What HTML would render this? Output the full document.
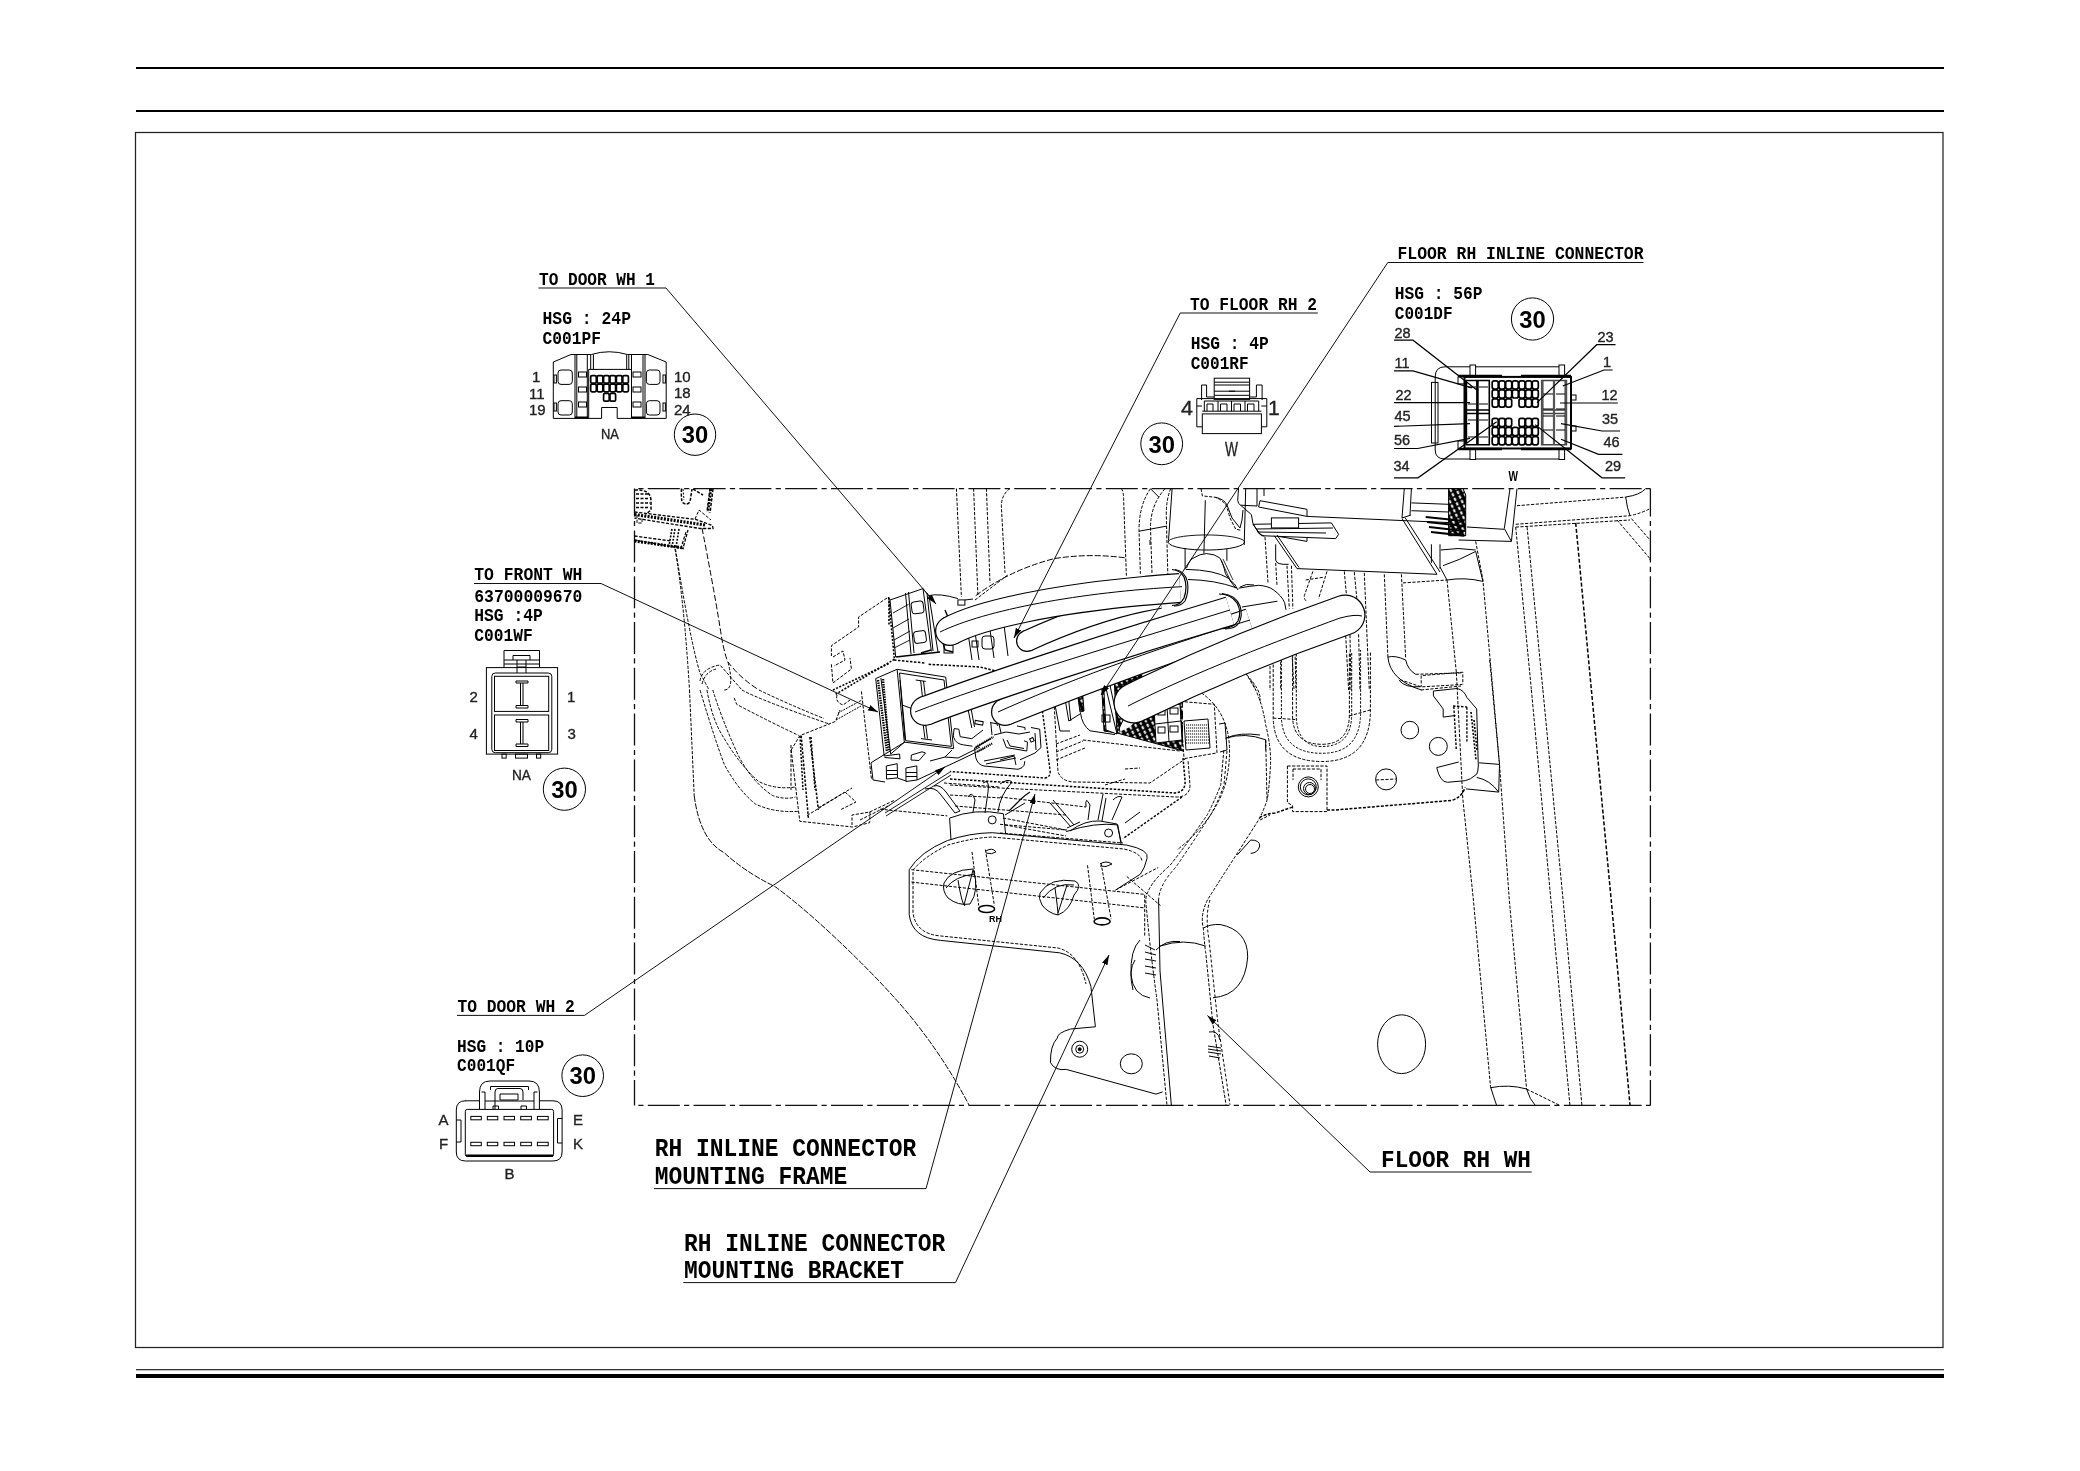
<!DOCTYPE html>
<html><head><meta charset="utf-8">
<style>
html,body{margin:0;padding:0;background:#fff;}
svg{display:block;will-change:transform;}
.b{font-family:"Liberation Sans",sans-serif;font-weight:bold;fill:#000;white-space:pre;}
.r{font-family:"Liberation Sans",sans-serif;fill:#222;stroke:#222;stroke-width:0.35;white-space:pre;}
.m{font-family:"Liberation Mono",monospace;font-weight:bold;fill:#000;white-space:pre;}
.mb{font-family:"Liberation Mono",monospace;font-weight:bold;fill:#000;white-space:pre;}
.ln{fill:none;stroke:#000;stroke-width:1.2;}
.th{fill:none;stroke:#000;stroke-width:1;}
.ds{fill:none;stroke:#000;stroke-width:1;stroke-dasharray:3.2 1.5;}
</style></head><body>
<svg width="2080" height="1471" viewBox="0 0 2080 1471">
<!-- page frame -->
<rect x="136" y="67" width="1808" height="2" fill="#000"/>
<rect x="136" y="110" width="1808" height="2" fill="#000"/>
<rect x="135.5" y="132.5" width="1807.5" height="1215" fill="none" stroke="#222" stroke-width="1.25"/>
<rect x="136" y="1369" width="1808" height="1.3" fill="#333"/>
<rect x="136" y="1374" width="1808" height="4" fill="#000"/>
<!-- dash-dot box -->
<g fill="none" stroke="#111" stroke-width="1.3" stroke-dasharray="32 4.3 5.2 4.3">
<path d="M634.5,488.6 H1650.4" stroke-dashoffset="32.5"/>
<path d="M634.5,1105.4 H1650.4" stroke-dashoffset="32.5"/>
<path d="M634.5,488.6 V1105.4" stroke-dashoffset="4"/>
<path d="M1650.4,488.6 V1105.4" stroke-dashoffset="4"/>
</g>
<!-- ===== connector 24P ===== -->
<g class="th" stroke-width="1.3">
<path d="M553.3,418.4 V362 L571,354.5 H591.4 Q609,349 627.4,354.5 H647.8 L666.2,362 V418.4 H617.2 V407.5 H601.6 V418.4 Z"/>
<path d="M575,354.5 V418.4 M576.8,354.5 V418.4 M587.3,354.5 V418.4 M590.7,354.5 V369.4 M593.4,354.5 V369.4 M626.7,354.5 V369.4 M628.8,354.5 V369.4 M631.5,354.5 V418.4 M643,354.5 V418.4 M645,354.5 V418.4"/>
<path d="M588.7,418.4 V369.4 H631.5"/>
<rect x="558" y="370" width="14.3" height="14.4" rx="3"/>
<rect x="558" y="400.7" width="14.3" height="14.3" rx="3"/>
<rect x="646.4" y="370" width="13.6" height="14.4" rx="3"/>
<rect x="646.4" y="400.7" width="13.6" height="14.3" rx="3"/>
<rect x="554" y="375" width="2.4" height="8"/><rect x="554" y="403" width="2.4" height="8"/>
<rect x="663" y="375" width="2.4" height="8"/><rect x="663" y="403" width="2.4" height="8"/>
<rect x="578.5" y="372" width="8" height="5"/><rect x="578.5" y="387" width="8" height="5"/><rect x="578.5" y="402" width="8" height="5"/>
<rect x="633" y="372" width="8" height="5"/><rect x="633" y="387" width="8" height="5"/><rect x="633" y="402" width="8" height="5"/>
<path d="M575,417.5 H588 M631.5,417.5 H645" stroke-width="2"/>
</g>
<g fill="#fff" stroke="#000" stroke-width="1.7">
<rect x="590.7" y="375.6" width="5.6" height="7.6" rx="1.3"/><rect x="597.2" y="375.6" width="5.6" height="7.6" rx="1.3"/><rect x="603.6" y="375.6" width="5.6" height="7.6" rx="1.3"/><rect x="610.0" y="375.6" width="5.6" height="7.6" rx="1.3"/><rect x="616.4" y="375.6" width="5.6" height="7.6" rx="1.3"/><rect x="622.8" y="375.6" width="5.6" height="7.6" rx="1.3"/>
<rect x="590.7" y="384.2" width="5.6" height="7.6" rx="1.3"/><rect x="597.2" y="384.2" width="5.6" height="7.6" rx="1.3"/><rect x="603.6" y="384.2" width="5.6" height="7.6" rx="1.3"/><rect x="610.0" y="384.2" width="5.6" height="7.6" rx="1.3"/><rect x="616.4" y="384.2" width="5.6" height="7.6" rx="1.3"/><rect x="622.8" y="384.2" width="5.6" height="7.6" rx="1.3"/>
<rect x="603.6" y="393.4" width="5.6" height="7.8" rx="1.3"/><rect x="610.0" y="393.4" width="5.6" height="7.8" rx="1.3"/>
</g>
<g class="r" font-size="15">
<text x="532" y="382">1</text><text x="529" y="398.5">11</text><text x="529" y="415">19</text>
<text x="674" y="381.5">10</text><text x="674" y="398">18</text><text x="674" y="414.5">24</text>
<text x="601" y="438.5" textLength="18" lengthAdjust="spacingAndGlyphs">NA</text>
</g>

<!-- ===== connector 4P RF ===== -->
<g class="th" stroke-width="1.2">
<rect x="1214.2" y="378.2" width="35.4" height="21.2"/>
<path d="M1214.2,382.2 H1249.6 M1214.2,385 H1249.6 M1214.2,391.2 H1249.6 M1214.2,395.3 H1249.6 M1229,391.2 H1235" />
<path d="M1201.6,400 V385 H1206.6 V397 H1214.2 M1249.6,397 H1256.4 V385 H1262.1 V400"/>
<path d="M1196.8,426.8 V398.6 H1262 V398.6 M1266.8,398.6 V426.8 H1261.4 M1196.8,426.8 H1202.3"/>
<path d="M1262,398.6 H1266.8"/>
<rect x="1202.3" y="413.9" width="59.1" height="19.7"/>
<path d="M1202.3,411.2 H1261.4"/>
<path d="M1204.3,411.2 V401 H1258.7 V411.2 M1218,401 V411.2 M1231.5,401 V411.2 M1245,401 V411.2"/>
<path d="M1207,411 V404 H1213 V411 M1220.5,411 V404 H1227 V411 M1234,411 V404 H1240.5 V411 M1247.5,411 V404 H1254 V411"/>
<path d="M1196.8,406 H1202 M1261.4,406 H1266.8"/>
</g>
<g class="r" font-size="21">
<text x="1181" y="414.7" textLength="12" lengthAdjust="spacingAndGlyphs">4</text><text x="1268" y="414.7">1</text>
<text x="1225" y="456.2" textLength="13" lengthAdjust="spacingAndGlyphs">W</text>
</g>

<!-- ===== connector 56P ===== -->
<g class="th" stroke-width="1.1">
<path d="M1470,366.8 H1445 Q1435.2,366.8 1435.2,377 V450 Q1435.2,459 1445,459 H1470"/>
<path d="M1475.6,366.8 H1559 M1475.6,459 H1559"/>
<rect x="1470" y="365" width="5.6" height="12"/><rect x="1470" y="448.5" width="5.6" height="11"/>
<rect x="1559" y="365" width="5.6" height="12"/><rect x="1559" y="448.5" width="5.6" height="11"/>
<rect x="1431.5" y="382.4" width="6.5" height="60.6"/>
<rect x="1458" y="376.9" width="6.5" height="7"/><rect x="1458" y="441" width="6.5" height="7.5"/>
<rect x="1571" y="395" width="5" height="5"/><rect x="1571" y="426" width="5" height="5"/>
</g>
<rect x="1464.5" y="376.9" width="106.5" height="71.6" fill="none" stroke="#000" stroke-width="2"/>
<g class="th" stroke-width="1.5">
<path d="M1466.4,380.5 H1489.3 V444.8 H1466.4 Z M1466.4,410 H1489.3 M1466.4,413.5 H1489.3" stroke-width="1.6"/><path d="M1477.4,380.5 V444.8 M1465.5,380 V445" stroke-width="2.6"/>
<path d="M1541.7,380.5 H1566.4 V444.8 H1541.7 Z M1541.7,410 H1566.4 M1541.7,413.5 H1566.4" stroke-width="1.6" stroke="#444"/><path d="M1554,380.5 V444.8 M1542.5,381 V444 M1565.5,381 V444" stroke-width="2.2" stroke="#555"/>
<path d="M1458,376 H1502 M1521,376 H1571 M1458,449 H1502 M1521,449 H1571" stroke-width="2.4"/>
</g>
<g fill="#fff" stroke="#000" stroke-width="1.7">
<rect x="1492.2" y="380.8" width="6.0" height="8.2" rx="2"/><rect x="1499.0" y="380.8" width="6.0" height="8.2" rx="2"/><rect x="1505.7" y="380.8" width="6.0" height="8.2" rx="2"/><rect x="1512.3" y="380.8" width="6.0" height="8.2" rx="2"/><rect x="1519.0" y="380.8" width="6.0" height="8.2" rx="2"/><rect x="1525.6" y="380.8" width="6.0" height="8.2" rx="2"/><rect x="1532.3" y="380.8" width="6.0" height="8.2" rx="2"/>
<rect x="1492.2" y="389.8" width="6.0" height="8.2" rx="2"/><rect x="1499.0" y="389.8" width="6.0" height="8.2" rx="2"/><rect x="1505.7" y="389.8" width="6.0" height="8.2" rx="2"/><rect x="1512.3" y="389.8" width="6.0" height="8.2" rx="2"/><rect x="1519.0" y="389.8" width="6.0" height="8.2" rx="2"/><rect x="1525.6" y="389.8" width="6.0" height="8.2" rx="2"/><rect x="1532.3" y="389.8" width="6.0" height="8.2" rx="2"/>
<rect x="1492.2" y="398.9" width="6.0" height="8.2" rx="2"/><rect x="1499.0" y="398.9" width="6.0" height="8.2" rx="2"/><rect x="1505.7" y="398.9" width="6.0" height="8.2" rx="2"/><rect x="1519.0" y="398.9" width="6.0" height="8.2" rx="2"/><rect x="1525.6" y="398.9" width="6.0" height="8.2" rx="2"/><rect x="1532.3" y="398.9" width="6.0" height="8.2" rx="2"/>
<rect x="1492.2" y="418.3" width="6.0" height="8.2" rx="2"/><rect x="1499.0" y="418.3" width="6.0" height="8.2" rx="2"/><rect x="1505.7" y="418.3" width="6.0" height="8.2" rx="2"/><rect x="1519.0" y="418.3" width="6.0" height="8.2" rx="2"/><rect x="1525.6" y="418.3" width="6.0" height="8.2" rx="2"/><rect x="1532.3" y="418.3" width="6.0" height="8.2" rx="2"/>
<rect x="1492.2" y="427.3" width="6.0" height="8.2" rx="2"/><rect x="1499.0" y="427.3" width="6.0" height="8.2" rx="2"/><rect x="1505.7" y="427.3" width="6.0" height="8.2" rx="2"/><rect x="1512.3" y="427.3" width="6.0" height="8.2" rx="2"/><rect x="1519.0" y="427.3" width="6.0" height="8.2" rx="2"/><rect x="1525.6" y="427.3" width="6.0" height="8.2" rx="2"/><rect x="1532.3" y="427.3" width="6.0" height="8.2" rx="2"/>
<rect x="1492.2" y="436.6" width="6.0" height="8.2" rx="2"/><rect x="1499.0" y="436.6" width="6.0" height="8.2" rx="2"/><rect x="1505.7" y="436.6" width="6.0" height="8.2" rx="2"/><rect x="1512.3" y="436.6" width="6.0" height="8.2" rx="2"/><rect x="1519.0" y="436.6" width="6.0" height="8.2" rx="2"/><rect x="1525.6" y="436.6" width="6.0" height="8.2" rx="2"/><rect x="1532.3" y="436.6" width="6.0" height="8.2" rx="2"/>
</g>
<g class="th" stroke-width="1.3">
<path d="M1468,387 H1476 M1479,387 H1488 M1468,404 H1476 M1479,404 H1488 M1468,420 H1476 M1479,420 H1488 M1468,437 H1476 M1479,437 H1488"/>
<path d="M1543,394 H1553 M1556,394 H1565 M1543,409 H1553 M1556,409 H1565 M1543,416 H1553 M1556,416 H1565 M1543,430 H1553 M1556,430 H1565"/>
</g>
<g class="ln" stroke-width="1">
<polyline points="1394,340.2 1413,340.2 1476.5,389.7"/>
<polyline points="1394,370.8 1413,370.8 1471.9,387.9"/>
<polyline points="1394,402.6 1470,402.6"/>
<polyline points="1394,426.4 1470,423.7"/>
<polyline points="1394,448.5 1417.7,448.5 1470,438.4"/>
<polyline points="1394,477.8 1418,477.8 1496.7,421.8"/>
<polyline points="1615.5,344.7 1596.7,344.7 1537,402.6"/>
<polyline points="1612.7,370 1604,370 1562.8,386"/>
<polyline points="1617.8,403 1560,403"/>
<polyline points="1620,431 1602,431 1561,423.7"/>
<polyline points="1622.4,454.3 1598.6,454.3 1561,439.3"/>
<polyline points="1625.2,477.8 1602,477.8 1535.2,424.6"/>
</g>
<g class="r" font-size="14.5">
<text x="1394.5" y="337.5">28</text><text x="1394.5" y="368">11</text><text x="1395.5" y="399.5">22</text>
<text x="1394.5" y="421.2">45</text><text x="1394" y="445">56</text><text x="1393.5" y="470.7">34</text>
<text x="1597.5" y="341.8">23</text><text x="1603" y="367">1</text><text x="1601.5" y="399.5">12</text>
<text x="1602" y="424.4">35</text><text x="1603.5" y="446.8">46</text><text x="1605" y="471">29</text>
</g>
<text class="b" x="1508.5" y="480.7" font-size="15" textLength="9.5" lengthAdjust="spacingAndGlyphs">W</text>

<!-- ===== connector 4P WF ===== -->
<g class="th" stroke-width="1.2">
<rect x="486.4" y="667.6" width="71.2" height="86.5"/>
<path d="M504,667.6 V650.5 H539.5 V667.6 M504,660 H539.5 M504,664 H539.5 M513,660 V655.5 H530 V660 M517,660 V673 M526,660 V673 M517,667 H526"/>
<rect x="491.8" y="673" width="60" height="79.7" rx="3.5"/>
<rect x="494.5" y="676.3" width="54.2" height="35.1"/>
<rect x="494.5" y="715" width="54.2" height="35.5"/>
<path d="M516,681 H528 M516,681 V683 H528 V681 M520.5,683 V705.5 M523,683 V705.5 M516,705.5 H528 V708 H516 Z"/>
<path d="M516,719.5 H528 V722 H516 Z M520.5,722 V744 M523,722 V744 M516,744 H528 V746.5 H516 Z"/>
<rect x="502" y="754.1" width="4.2" height="4"/><rect x="515.5" y="754.1" width="12" height="4"/><rect x="536.5" y="754.1" width="4.2" height="4"/>
</g>
<g class="r" font-size="15">
<text x="469.5" y="702">2</text><text x="567" y="702">1</text>
<text x="469.5" y="738.5">4</text><text x="567.5" y="738.5">3</text>
<text x="512" y="780" textLength="19" lengthAdjust="spacingAndGlyphs">NA</text>
</g>

<!-- ===== connector 10P QF ===== -->
<g class="th" stroke-width="1.2">
<path d="M465,1100.8 H479.5 M539.4,1100.8 H553 Q562.1,1100.8 562.1,1110 V1152 Q562.1,1161 553,1161 H465.5 Q456.3,1161 456.3,1152 V1110 Q456.3,1100.8 465.5,1100.8"/>
<path d="M479.5,1109 V1092 Q479.5,1081 490,1081 H529 Q539.4,1081 539.4,1092 V1109"/>
<path d="M490.5,1086.5 H528.5 V1090 M490.5,1086.5 V1090 M495,1109 V1092 Q495,1088.5 498,1088.5 H520 Q523,1088.5 523,1092 V1100 M500,1100 V1094 H518 V1100 M500,1100 H518"/>
<path d="M481.5,1092 H485 V1109 M537.5,1092 H534 V1109 M485,1101 H534 M493,1109 V1106 H498.5 V1109 M521,1109 V1106 H526.5 V1109"/>
<rect x="465.3" y="1109.4" width="88.3" height="47.1" rx="2"/>
<path d="M466,1155.5 H553" stroke-width="2"/>
<path d="M456.3,1120 H461 V1142 H456.3 M562.1,1118.5 H557.5 V1143 H562.1"/>
<rect x="470.8" y="1116.4" width="10.5" height="3.4"/><rect x="487.3" y="1116.4" width="10.5" height="3.4"/><rect x="504" y="1116.4" width="10.5" height="3.4"/><rect x="520.7" y="1116.4" width="10.7" height="3.4"/><rect x="537.4" y="1116.4" width="10.8" height="3.4"/>
<rect x="470.8" y="1142.3" width="10.5" height="3.4"/><rect x="487.3" y="1142.3" width="10.5" height="3.4"/><rect x="504" y="1142.3" width="10.5" height="3.4"/><rect x="520.7" y="1142.3" width="10.7" height="3.4"/><rect x="537.4" y="1142.3" width="10.8" height="3.4"/>
</g>
<g class="r" font-size="15">
<text x="438.5" y="1124.5">A</text><text x="439" y="1149">F</text>
<text x="573" y="1124.5">E</text><text x="573" y="1149">K</text>
<text x="504.5" y="1179">B</text>
</g>
<!-- ===== drawing tile 1 [630-890, 480-690] ===== -->
<g class="ds" stroke-width="1.1">
<path d="M634.5,490 Q651,489 651,501 V509 Q650,512 645,514" stroke-width="1.5"/>
<path d="M636,494 H648 M636,498.5 H649 M636,503 H650 M636,507.5 H649" stroke-width="1.6" stroke-dasharray="3 1.5"/>
<path d="M637,515 V523 H642 V515"/>
<path d="M634.5,512 L696,519.5 L712.5,525.5 L713,528.5 L700,528.5 L634.5,518" stroke-width="1.3"/>
<path d="M634.5,514.5 L705,525" stroke-dasharray="2 1.3" stroke-width="3.2"/>
<path d="M695,519 L699,510 L711,520"/>
<path d="M681.5,488.5 Q681,496 682,502 Q686,506 690,502 L692,489" stroke-width="1.5"/>
<path d="M683,489 L684,500" stroke-dasharray="2 1.5"/>
<path d="M693,489 L703,495 M710,488.5 L707,512 M713,489 L710,513" stroke-width="1.5"/>
<path d="M711,489 L708,512" stroke-dasharray="2 1.3" stroke-width="2.5"/>
<path d="M634.5,536 L671,541 M634.5,540 L683,548.5 L688,530" stroke-width="1.3"/>
<path d="M634.5,541 L684,548" stroke-dasharray="2 1.3" stroke-width="3"/>
<path d="M672,529 L669,546 M675,529 L672,547 M679,529 L676,547" stroke-dasharray="2 1.3" stroke-width="1.6"/>
<path d="M686,532 L681,548" stroke-width="1.2"/>
<path d="M675,549 Q684,600 689.5,690"/>
<path d="M675.5,549 Q690,640 700,673 Q706,684 709,690"/>
<path d="M702,528 Q716,600 721.5,637 Q725,656 728,662 Q740,678 759,690" stroke-dasharray="6 2.5"/>
<path d="M700,681 Q702,668 720,665 L742,690"/>
<path d="M702,684 Q705,672 716,669"/>
<path d="M887,598 L858.6,617 V627 L831.4,645.7 V656 M833,657 L843,651 L845,660 L834,666 M831.4,664.3 L832.9,683 L851.4,669 L850,658"/>
<path d="M833,690 L890,663" stroke-dasharray="2 1.5" stroke-width="1.6"/>
<path d="M889,598 L889,625" stroke-dasharray="2 1.5" stroke-width="1.6"/>
</g>
<!-- ===== tile 2 top verticals ===== -->
<g class="ds" stroke-width="1.05">
<path d="M956.4,488.5 L961.4,597 M973.6,488.5 L977.9,595.7 M986.4,488.5 L990,582.9"/>
<path d="M1010,488.5 Q1001,495 1001.4,507 L1005,572.9"/>
<path d="M1121.4,488.5 Q1123.6,492 1123.6,498.6 L1126.4,575.7"/>
<path d="M975.7,595.7 Q1010,570 1054.3,558.6 Q1090,553 1125.7,557.9 L1126,558" stroke-dasharray="6 2"/>
<path d="M975,600 L1008.6,574.3" />
</g>
<g class="th" stroke-width="1.1">
<path d="M1150,540 L1150,545"/>
</g>
<!-- ===== connectors in drawing (left cluster) ===== -->
<g class="th" stroke-width="1.2">
<!-- 24P housing -->
<path d="M890,600 L923,588.6 L931.4,651.4 M890,600 L895.7,657 M905.5,593 L911,654 M908.5,592 L914,653"/>
<path d="M893,613 L908.6,604.3 M893,628 L909,619 M894,640 L910,631 M894,648 L910,640" stroke-width="0.9"/>
<rect x="911.5" y="601.5" width="12" height="12" rx="3" transform="rotate(-8 917 607)"/>
<rect x="914" y="631" width="12" height="12" rx="3" transform="rotate(-8 920 637)"/>
<path d="M895.7,657 L940,652 M921,653 L931,650" stroke-width="1.4"/>
<path d="M923,588.6 L929,596 L938,652 M927,593 L933,651" />
<path d="M928.5,595.6 Q940,593 957.9,598.6" /><rect x="957.9" y="599.9" width="7" height="5.2"/><path d="M965,600 L973,599"/>
<path d="M945,610 L950,622 M940,632 L945,650 L953,652" stroke-width="1.4"/>
<rect x="944" y="645" width="9" height="8"/>
<path d="M968,633 L972,660 M975,632 L979,660 M990,630 L994,658 M1004,625 L1008,656" />
<rect x="972" y="641" width="6" height="6"/>
<rect x="982" y="636" width="12" height="13" rx="3"/>
<path d="M1004,624 L1022,618 L1026,622" />
</g>
<g class="ds" stroke-width="1.1">
<path d="M888.6,597 L894.3,658.6" stroke-dasharray="2 1.5" stroke-width="1.6"/>
<path d="M894.3,659.3 L835.7,694.3" stroke-dasharray="2 1.5" stroke-width="1.6"/>
<path d="M928.6,664.3 L980,667 L1000,672" stroke-dasharray="2.5 1.5" stroke-width="1.5"/>
<path d="M894,660 L925,663" stroke-dasharray="2.5 1.5" stroke-width="1.5"/>
<path d="M837,695 Q835,702 843,705 L850,700"/>
<path d="M838,713 L862,700 M836,720 L861,706" stroke-dasharray="2 1"/>
<path d="M734.2,697.9 L736.7,704.4 Q770,722 798.7,735.4"/>
<path d="M861.4,691.4 L871.4,778.6"/>
<path d="M800,736 L803,790 M811,737 L815,790" stroke-dasharray="2 1.5" stroke-width="1.5"/>
<path d="M791,745 L791,790"/>
</g>
<g class="th" stroke-width="1.2">
<!-- FRONT WH 4P housing -->
<path d="M897.1,669.3 L945.7,677.1 L953.6,748.6 L904.3,742.1 Z"/>
<path d="M899.5,673 L944,680 L951.4,746.4 L905.7,740.7 Z"/>
<path d="M902,705 L912,708.6 M905,740 L900,680"/>
<path d="M915.7,680 L925.7,681.4 M920.7,681 L923,702 M923.5,681 L926,702"/>
<path d="M922.9,722.9 L925,738.6 M925.5,722.9 L927.5,738.6 M921,738.6 L932,740"/>
<path d="M875.7,678.6 L897,669.3 M875.7,678.6 L884.2,756.1 M880.9,678 L890.7,754"/>
<path d="M878,680 L887,752 M883,679 L889,751" stroke-width="2.4" stroke-dasharray="1.5 1"/>
<path d="M890.7,754 L904.8,742 M871.1,762.7 L904.8,742 M871,763 L873,780 L885,782"/>
<path d="M884,756 L899.5,754 L900,758.8 L884.5,757.5"/>
<path d="M886.3,766 L897.2,763.7 L897.5,777.9 L886.5,779 Z M886.5,770.5 H897.3 M886.5,774.5 H897.4"/>
<path d="M905.9,768 L916.8,765.9 L917,780 L906,781.5 Z M906,772.5 H917 M906,776.5 H917"/>
<path d="M911.4,755 L922,751.8 L925.5,753 L919,760.5 L911,760 Z"/>
<path d="M917,780 L960,760 L985,748 M897.5,778 L906,781"/>
<path d="M930,761 L945,757 L952,750 M945,757 L958,758 L980,747"/>
<path d="M885,813 L950,772 M886,816 L951,775" stroke-width="0.9"/>
</g>
<!-- ===== middle cluster: 56P in drawing, frame ===== -->
<defs>
<pattern id="chk" width="5.5" height="5" patternUnits="userSpaceOnUse" patternTransform="rotate(-25)">
<rect width="5.5" height="5" fill="#000"/><rect x="1.2" y="0.8" width="2" height="3.4" rx="0.8" fill="#fff"/></pattern>
</defs>
<g class="th" stroke-width="1.2">
<path d="M1101,672 L1143,658 L1140,700 L1125,716 L1117,733 L1104,731 Z" fill="url(#chk)"/>
<path d="M1117,733 L1183,751 L1183,700 L1150,705 L1130,727 Z" fill="url(#chk)" stroke="none"/>
<path d="M1103,673 L1106,730 L1117,734 L1114,676 Z" fill="#fff"/>
<path d="M1117,733 L1183,751 M1103,676 L1117,734 M1108,676 L1120,732"/>
<rect x="1102" y="715" width="8" height="7"/>
<path d="M1154,708 L1180,704 L1182,740 L1156,743 Z" fill="#fff"/>
<path d="M1167,706 L1169,742 M1155,724 L1181,721"/>
<rect x="1158" y="709" width="7" height="6"/><rect x="1170" y="708" width="8" height="6"/>
<rect x="1158" y="727" width="7" height="6"/><rect x="1170" y="726" width="8" height="6"/>
<path d="M1076.5,686.5 L1080,712 L1084,711 L1082,685 Z" fill="url(#chk)"/>
<path d="M1064,693 L1068.8,721 M1067.9,692 L1070.8,721 M1055,705 L1060,731 L1070,731 M1068.8,721 L1080,714"/>
<path d="M1080.4,712.5 Q1082,725 1090,730.8 L1115,734.6" />
<path d="M1184,721 L1208,719 L1210,748 L1186,750 Z" fill="#fff"/>
<path d="M1186,725 H1209 M1186,728 H1209 M1186,731 H1209 M1186,734 H1209 M1186,737 H1209 M1186,740 H1209 M1186,743 H1209" stroke-width="1" stroke-dasharray="1.2 0.8"/>
<path d="M1219,724 L1225,723 L1227,750 L1220,752" />
<path d="M1226,738 Q1240,732 1260,735"/>
</g>
<g class="ds" stroke-width="1.1">
<path d="M1180,701.4 L1214.3,704.3 L1217,752.9 L1184.3,758.6 M1180,702 L1184,758"/>
<path d="M1041.4,703 L1050,770 Q1051,777 1045,778 L950,771.5" stroke-dasharray="2.5 1.5" stroke-width="1.4"/>
<path d="M1054,702 L1058,772 Q1062,782 1075,782 L1150,783 L1185.7,758.6"/>
<path d="M950,779 L1000,782 L1175,793 Q1186,792 1185,780 L1183,758" stroke-dasharray="2.5 1.5" stroke-width="1.5"/>
<path d="M950,785 L1000,788 L1176,797 Q1190,797 1190,785 L1188,760"/>
<path d="M1182,797 L1123,838.6" stroke-dasharray="2.5 1.5" stroke-width="1.4"/>
<path d="M1000,797 L1086,807 M1000,824.3 L1067,830 M1000,833 L1123,843"/>
<path d="M1056,744 L1080,735 M1056,752 L1083,741 M1056,760 L1085,748 M1083,740 L1180,751"/>
<path d="M1201.4,692.9 Q1240,720 1225.7,782.9 Q1215,820 1177,850"/>
<path d="M1243,671 Q1262,690 1260,701"/>
<path d="M1125,769 L1140,768 M1105,785 L1125,779"/>
</g>
<g class="th" stroke-width="1.1">
<path d="M1070,831 Q1085,820 1100,821 L1117,824 L1121.4,843" fill="none"/>
<circle cx="1108.6" cy="833" r="4"/>
<path d="M1050,803 L1071,827 M1053,800 L1074,825 M1067,828 L1080,822"/>
<path d="M1086,807 Q1085,795 1090,805 L1088,820 M1103,794 L1098,820 M1106,798 L1102,821 M1113,800 Q1118,795 1122,797 L1112,820"/>
<path d="M1005,815 L1025,803 M1125,823 L1140,812"/>
</g>
<!-- ===== top right [1240-1660, 480-690] ===== -->
<g class="th" stroke-width="1.2">
<path d="M1297,568.6 L1437,574.3 M1307,516.4 L1458.6,523 M1274.3,535.7 L1297,568.6 M1277,535 L1299,567.5"/>
<path d="M1260,500.7 L1307,509.3 L1307,516.4 M1258.6,507 L1307,516.4 M1260,500.7 L1258.6,507"/>
<path d="M1252.9,524.3 L1331.4,522.9 L1338.6,534.3 L1335.7,538.6 L1261.4,535.7 Z M1256,529 L1333,528 M1258,532 L1326,533"/>
<rect x="1271.4" y="517.9" width="27.2" height="10" fill="#fff"/>
<path d="M1278.6,536.4 L1307,541.4 L1307,538"/>

<path d="M1275.7,544.3 V560 Q1276,565 1288.6,564.3"/>
<path d="M1402,518.6 L1437,574.3 M1405,517.5 L1440,572" />
<path d="M1517,488.5 L1511.4,541.4 M1510,488.5 L1504.3,528.6 L1511.4,541.4 M1467,527 L1504,529.3 M1458.6,540 L1511.4,541.4"/>
<path d="M1404.3,488.5 L1402,518 M1411.4,488.5 L1410,515 M1411.4,502.9 L1448.6,504.3 M1411.4,510.7 L1448.6,512 M1402,518 L1411,515"/>
<path d="M1448.6,488.6 L1463,488.6 L1465.7,495 L1465.7,535.7 L1448.6,535.7 Z" fill="url(#chk)"/>
<path d="M1425.7,517 L1464.3,521 M1427,522 L1464.3,526 M1429,527 L1464.3,531 M1431,532 L1464.3,535.7" stroke-width="2.2"/>
<path d="M1440.7,550 Q1458,547 1475.7,550 M1442.9,565.7 Q1460,560 1475.7,551.4 L1482.9,581.4 M1447,580 Q1465,577 1482.9,581.4 M1440,567 L1447,580 M1431.4,544.3 V562.9 M1440,544.3 V568.6"/>
<path d="M1387.9,657.1 Q1395,655 1405.7,660 Q1408,670 1415.7,674.3 M1387.9,657.1 Q1390,680 1421.4,690"/>
<path d="M1625.7,497 Q1627,508 1630,515.7 M1625.7,497 Q1640,495 1645.7,488.6"/>
</g>
<g class="ds" stroke-width="1.05">
<path d="M1517,505.7 L1625.7,497.1 M1515.7,524.3 L1630,515.7 Q1642,513 1650,508.6 M1515.7,527.1 L1630,520"/>
<path d="M1617,520 L1650,558.6 M1631.4,518.6 L1650,540"/>
<path d="M1515.7,527.1 L1531.4,690 M1527.1,527.1 L1542.9,690 M1475.7,541.4 L1482.9,580 L1492.9,690 M1447,580 L1456.4,672.9 M1401.4,574.3 L1405.7,658.6 M1403,582.9 L1447,580 M1415.7,674.3 L1461.4,672.9 M1421,690 L1461,686"/>
<path d="M1575.7,522.9 L1591.4,690" stroke-dasharray="4 2" stroke-width="1.5"/>
<path d="M1265,537.1 L1268,582.9 M1275.7,562.9 L1277,585.7 M1287,565.7 L1289.3,608.6 M1291.4,565.7 L1292.9,608.6 M1344.3,571.4 L1346.4,594.3 M1354.3,572.1 L1357.1,601.4 M1358.6,634.3 L1360,690 M1364.3,572.9 L1369.3,690 M1384.3,574.3 L1387.9,657.1 M1345.7,635.7 L1348.6,690 M1350,635 L1351,690"/>
<path d="M1270,661.4 V690 M1280.7,657 V690 M1292,652.9 L1294,690 M1295,652 L1296,690"/>
<path d="M1312.9,571.4 L1304.3,595.7 Q1304,600 1307,601.4 M1327,571.4 L1318.6,598.6 M1305.7,580 L1324.3,577.1"/>
<path d="M1245.7,672.9 L1255.7,690"/>

</g>
<!-- ===== lower left + bracket ===== -->
<g class="ds" stroke-width="1.05">
<path d="M689.5,690 L694.2,795.6"/>
<path d="M707,690 Q712,720 724.2,738.5 Q740,765 758.4,781.3 Q775,790 795.5,787"/>
<path d="M712.8,690 Q722,720 738.4,755.6 Q752,782 772.7,795.6 Q785,800 795.5,797"/>
<path d="M728,662 Q735,690 724.2,690 M700,690 Q715,740 724.2,764.2 Q738,790 755.6,804.2 Q775,813 798.4,811.3"/>
<path d="M742,690 Q760,700 829.8,724.2 M759,690 Q790,705 824,718.5"/>
<path d="M791.2,750 L799.8,821.3 L852.6,827 L869.7,822.7 L870,812 L852,815 L852,825 M791.2,750 L799.8,735.7 L835.5,721.4 L840,710"/>
<path d="M801.2,735.7 L808.4,818.4 M809.8,737 L818.4,809.9" stroke-dasharray="2.5 1.5" stroke-width="1.5"/>
<path d="M807,815.6 L844,792.7 M818,808 L852,788 M845,792 L856,802 L840,810"/>
<path d="M869.7,812 L895,800 M860,820 L890,805"/>
<path d="M694.2,795.6 Q700,840 724.2,852.7 Q745,872 775.5,886.9 Q800,905 829.8,932.6 Q870,970 900,1003.9 Q940,1050 969,1105" stroke-dasharray="6 1.5"/>
</g>
<g class="th" stroke-width="1.15">
<!-- bracket plate -->
<path d="M909.2,869.7 L909.2,914.6 Q912,938 940.6,940.4 L1059.5,952.8 Q1083,958 1090.9,986.4 L1095.4,1026.8 L1070.7,1029 Q1057,1033 1057.3,1038 Q1050,1046 1050.5,1062.7 Q1055,1071 1066.2,1069.4 L1156,1094.1 L1162.7,1091.9"/>
<path d="M909.2,869.7 Q920,852 947.3,840.6 Q970,833 992.2,832.7 L1126.8,845.1 Q1150,850 1147,858.5 Q1145,868 1140.3,874.2 L1115.6,890"/>
<path d="M913,870 Q925,856 948,845 Q972,838 992,837 L1124,849 Q1142,853 1142,862" class="ds"/>
<path d="M913,872 L913,913 Q916,934 941,936 L1058,948 Q1079,953 1086,984" class="ds"/>
<path d="M949.6,818.1 Q975,808 1003.4,813.7 L1005.6,833.8 M949.6,818.1 L951,840"/>
<circle cx="992.2" cy="819.9" r="4"/>
<path d="M1066.2,831.6 Q1095,822 1117.8,824.9 L1121.2,845.1"/>
<!-- pins -->
<path d="M972,851.8 L978.7,905.6 M985.4,849.6 L994.4,905.6" class="ds"/>
<ellipse cx="986.6" cy="909" rx="8" ry="3.5" stroke-width="1.6"/>
<path d="M986,851 Q992,847 996,851.8 Q992,855 986,853"/>
<path d="M1087.5,865.3 L1094.3,919.1 M1101,863 L1111.1,919.1" class="ds"/>
<ellipse cx="1102.1" cy="921.4" rx="8" ry="3.5" stroke-width="1.6"/>
<path d="M1100,864 Q1106,860 1112,864 Q1106,868 1100,866"/>
<!-- teardrops -->
<path d="M944,883 Q950,870 973,869 Q980,890 970,904 Q958,906 948,898 Q942,891 944,883 Z"/>
<path d="M946,888 Q955,876 975,874 M958,880 Q962,905 965,906 M973,870 L964,905"/>
<path d="M1040,893 Q1050,877 1075,881 Q1083,885 1074,895 Q1070,910 1058,915 Q1048,913 1042,905 Q1038,898 1040,893 Z"/>
<path d="M1043,898 Q1055,882 1074,885 M1055,888 Q1058,910 1058,915 M1067,885 L1058,913"/>
<!-- lower ear holes -->
<circle cx="1079.7" cy="1049.2" r="8"/><circle cx="1079.7" cy="1049.2" r="4"/><circle cx="1079.7" cy="1049.2" r="1.5" fill="#000"/>
<ellipse cx="1131.3" cy="1063.8" rx="11" ry="10"/>
<!-- clip on floor harness -->
<path d="M1140,940 Q1130,950 1131,975 Q1133,995 1150,998"/>
<path d="M1135,960 Q1128,970 1133,990"/>
<path d="M1145,945 L1155,950 M1145,952 L1156,955 M1145,959 L1156,961 M1145,966 L1156,968 M1145,973 L1156,975"/>
<path d="M1156,950 Q1165,940 1180,941.5"/>
</g>
<g class="ds" stroke-width="1.05">
<path d="M911.4,869.7 L1144.7,894.4 L1144.7,937 M911.4,882.1 L1144.7,907.9"/>
<path d="M1115.6,890 L1158.2,867.5 M1126.8,876.5 L1160.5,905.6"/>
<path d="M880,809.2 L947.3,815.9 M1003,818 L1066,830 M1005,825 L1066,836"/>
<path d="M925,789 Q935,786 941,795 L955,813 L960,811 L946,792 Q940,784 934,786" stroke-dasharray="none" stroke-width="1"/>
<path d="M968,797 Q972,790 975,800 L973,812 M983,783 Q990,778 988,792 L985,813 M1000,784 Q1008,778 1012,782 Q1000,795 998,812" stroke-dasharray="none" stroke-width="1"/>
<path d="M1009,811 L1020,800 Q1025,795 1030,792" stroke-dasharray="none" stroke-width="1.2"/>
<path d="M950,795 L1002,798 M955,806 L1066,815 M944,783 L1000,787" />
</g>
<g class="ds" stroke-width="1.1">

</g>
<text x="989" y="922" font-family="Liberation Sans,sans-serif" font-size="9" font-weight="bold">RH</text>
<!-- ===== lower right ===== -->
<g class="ds" stroke-width="1.05">
<!-- floor harness tube outlines -->
<path d="M1250.7,680 Q1262,700 1265.7,724.9 Q1272,750 1270.2,769.7 Q1269,790 1267.2,799.6 Q1264,810 1258.2,820.6 L1234.3,857.9 Q1220,880 1207.4,900 Q1200,915 1203.3,928 Q1205,950 1205.7,952.1 L1212.9,1024.2 L1226.1,1104.8"/>
<path d="M1210,900 Q1205,915 1209,940 L1218,1024 L1230,1104.8" stroke-dasharray="3 2"/>
<path d="M1223.8,750.3 L1220.8,784.7 Q1215,800 1207.4,814.6 Q1190,840 1170,865.4 Q1147,885 1145.7,900 Q1150,950 1157,1000 L1167,1105.7"/>
<path d="M1227,751 L1224,785 Q1218,802 1210,816 Q1193,842 1176,867 Q1159,885 1158.6,900" stroke-dasharray="3 2"/><path d="M1158.6,900 L1160,971 L1171.4,1105.7" stroke-dasharray="none" stroke-width="1"/>
<!-- U shape -->
<path d="M1273.2,655 L1273.2,718.9 Q1275,761.5 1322,761.5 Q1370.4,761.5 1370.4,709.9 L1370.4,652"/>
<path d="M1281.4,652 L1281.4,718 Q1283,753.3 1322,753.3 Q1360.6,753.3 1360.6,712 L1360.6,650" stroke-dasharray="2.5 1.5" stroke-width="1"/>
<path d="M1292.6,650 L1292.6,718 Q1294,744.3 1322,744.3 Q1349.4,744.3 1349.4,714 L1349.4,652"/>
<path d="M1296.3,650 L1296.3,718 Q1298,746.5 1322,746.5 Q1351.7,746.5 1351.7,714 L1351.7,652" stroke-dasharray="2.5 1.5" stroke-width="1"/>
<path d="M1273.2,718.1 L1297.1,719.6 M1349.4,715.9 L1370.4,709.9"/>
<!-- bolt square -->
<path d="M1287.4,766 H1327 V802.6 M1287.4,766 V802.6 L1292.6,805.6 L1292.6,811.6 L1327,811.6 V802"/>
<path d="M1293,769 H1321 V780 M1293,769 V780"/>
<!-- bracket bottom edge -->
<path d="M1259.7,817.6 Q1265,814 1275,813 L1292.6,807.1 M1327,810 L1334.5,810.1 L1452.2,800.3 Q1462,797 1465.2,787.2" stroke-dasharray="3 1.5" stroke-width="1.5"/>
<path d="M1265.7,739.8 L1267,800 M1260,820 L1270,815"/>
<path d="M1400,679.6 L1421.2,686.9 L1462,684.5 M1422.8,675.5 L1462.8,672.2 L1462.8,684.5 M1421.2,675.5 V686.9"/>
<path d="M1453.8,706.5 L1456.3,749.7 M1466.9,707.3 L1466.9,741.6 M1453,706 L1467,707" stroke-dasharray="2.5 1.5" stroke-width="1.4"/>
<!-- long verticals -->
<path d="M1492.9,690 L1499.5,764.4 L1509.3,900 L1526.6,1089.1 M1456.4,672.9 L1462.8,798.6 L1473.4,900 L1490.5,1086.7"/>
<path d="M1531.4,690 L1550.9,900 L1569.9,1105 M1542.9,690 L1563.1,900 L1581.9,1105"/>
<path d="M1591.4,690 L1611.2,900 L1630,1105" stroke-dasharray="4 2" stroke-width="1.5"/>
<path d="M1526.6,1089.1 L1559,1105"/>
<path d="M1650,558.6 L1650,560"/>
</g>
<g class="th" stroke-width="1.15">
<path d="M1225.3,738.3 Q1245,732 1265.7,739.8 L1265.7,750.3"/>
<path d="M1237.3,854.9 L1250.7,840 Q1260,840 1259.7,846 Q1258,853 1250.7,853.4"/>
<circle cx="1308.3" cy="786.9" r="10"/><circle cx="1308.3" cy="786.9" r="8"/><circle cx="1309.5" cy="788.5" r="6"/><circle cx="1310" cy="789" r="4.5"/>
<circle cx="1409.8" cy="730.1" r="8.8"/>
<circle cx="1438.3" cy="746.4" r="9"/>
<circle cx="1386.1" cy="779.4" r="10.5"/>
<path d="M1376,780 L1396,779" class="ds"/>
<path d="M1398.8,680 Q1405,688 1420,686.7"/>
<path d="M1433.4,691 L1457.1,688.5 Q1464,690 1466.9,697.5 L1476.7,708.9 L1478.3,766 Q1478,772 1476.7,774.2 Q1470,780 1465.2,780.7 L1447.3,782.3 Q1440,782 1436.7,767.6 L1458.7,762"/>
<path d="M1433.4,691 L1433.4,695.9 L1443.2,708.9 L1443.2,717.1 L1455.5,715.5"/>
<path d="M1479.1,762.8 L1499.5,764.4 L1498.7,792.1 Q1490,780 1476.7,777.4 M1466.1,788.9 L1498.7,792.1"/>
<path d="M1471,712 L1476,760 M1474,720 L1477,750" stroke-dasharray="2 1.5" stroke-width="1.6"/>
<!-- bottom right -->
<path d="M1160,946.1 Q1184,938 1205.7,946.1"/>
<path d="M1203.3,928.1 Q1210,924 1220.1,924.5 Q1247.7,930 1247.7,956.9 Q1245,995 1212.9,997.8"/>
<path d="M1209,1032 Q1218,1030 1220,1040 M1208,1046 L1221,1048 M1208,1049 L1221,1051 M1208,1052 L1221,1054 M1209,1056 L1220,1058"/>
<ellipse cx="1401.6" cy="1044.2" rx="24" ry="29.4"/>
<path d="M1490.5,1087.7 Q1508.6,1084 1526.6,1089 M1490.5,1086.7 Q1494,1098 1496.5,1105 M1526.6,1089 Q1530,1100 1535,1105"/>
</g>
<g class="ds" stroke-width="1.05">

<path d="M1489.7,660 L1499.5,764.4"/>
</g>
<!-- ===== small 10P connector in drawing ===== -->
<g class="th" stroke-width="1.15" fill="none">
<path d="M974.5,747.6 L975.8,757.8 Q978,765 984,766 L1018,769.3 Q1023,768 1024.1,765.3 L1024.8,761.2"/>
<path d="M990.8,723 L992,735 M999,724 L1001,733 M990,722.5 L997,723.8 L997.5,726 M1017,726 L1025,727.5 L1025,730 M1031,727.5 L1039.7,729.2 L1041,747.6 L1035,753 L1020,759.8 M1035,733 L1036,750"/>
<path d="M1003,738.7 L1006.4,747.6 L1026.8,751 L1027.5,742.1 L1024,740.8 M1007,740 L1010,746 L1024,748.5"/>
<path d="M975.8,747 L993.5,736.7 M977.2,751.7 L992.1,743.5" stroke-width="2.2" stroke-dasharray="1.2 0.8"/>
<path d="M975,748 L991,738.5 M994,735 L1006,732 L1019,734 L1030,732"/>
<path d="M984,761 L1015,755 M986,764 L1016,758 M1000,760 L1014,756 L1016,765"/>
<rect x="1030.2" y="738" width="3.4" height="3.5" transform="rotate(-25 1032 739.7)"/>
<rect x="975" y="721" width="8" height="3.5" transform="rotate(10 979 722.7)"/>
<path d="M954,728.6 L958.8,729.2 L960.2,736.7 L971.8,738.7 L983,730 M954,729 Q953,738 954,738 Q956,744 963.6,744.9 L972.4,746.2"/>
<path d="M967,704 L971.8,728 M970,703 L974.5,727"/>
</g>
<!-- ===== tubes ===== -->
<defs>
<path id="tD" d="M1005,712 C1060,690 1150,655 1250,622"/>
<path id="tB" d="M1027,641 C1062,625 1110,606 1160,598"/>
<path id="tE" d="M1134,703 C1185,678 1262,644 1345,615"/>
<path id="tA" d="M950,631 C975,617 1050,597 1180,588"/>
<path id="tC" d="M925,711 C980,690 1100,650 1230,611"/>
</defs>
<g fill="none" stroke-linecap="butt">
<use href="#tD" stroke="#000" stroke-width="28"/><circle cx="1005" cy="712" r="14" fill="#000"/>
<use href="#tD" stroke="#fff" stroke-width="25.6"/><circle cx="1005" cy="712" r="12.8" fill="#fff"/>
<path d="M998,712 C1060,684 1150,650 1250,620" stroke="#000" stroke-width="1"/>
<use href="#tB" stroke="#000" stroke-width="22"/><circle cx="1027" cy="641" r="11" fill="#000"/>
<use href="#tB" stroke="#fff" stroke-width="19.6"/><circle cx="1027" cy="641" r="9.8" fill="#fff"/>
<use href="#tE" stroke="#000" stroke-width="41" stroke-linecap="round"/><use href="#tE" stroke="#fff" stroke-width="38.6" stroke-linecap="round"/>
<path d="M1128,706 C1195,672 1280,640 1340,618 Q1355,614 1362,616" stroke="#000" stroke-width="1"/>
<use href="#tA" stroke="#000" stroke-width="30"/><circle cx="950" cy="631" r="15" fill="#000"/>
<use href="#tA" stroke="#fff" stroke-width="27.6"/><circle cx="950" cy="631" r="13.8" fill="#fff"/>
<path d="M940,632 C985,610 1080,592 1182,586.7" stroke="#000" stroke-width="1"/>
<use href="#tC" stroke="#000" stroke-width="30"/><circle cx="925" cy="711" r="15" fill="#000"/>
<use href="#tC" stroke="#fff" stroke-width="27.6"/><circle cx="925" cy="711" r="13.8" fill="#fff"/>
<path d="M915,712 C990,683 1100,650 1230,610" stroke="#000" stroke-width="1"/>
</g>
<g class="th" fill="#fff">
<!-- blob after ring A -->
<path d="M1186,569.4 Q1215,570 1228,578 Q1236,584 1238,590 L1238,606 L1186,606 Z" stroke="none"/>
<path d="M1186,569.4 Q1215,570 1228,578 Q1236,584 1238,590" fill="none"/>
<path d="M1188,579.5 Q1215,580 1237,588" fill="none"/>
<!-- ring A -->
<path d="M1172,569.5 Q1180,570 1184,577 Q1188,587 1184,598 Q1180,605.5 1172,605.5" fill="none" stroke-width="1.2"/>
<path d="M1175,569.5 Q1185,571 1187.5,582 Q1189,592 1185,601 Q1181,606 1174,606" fill="none" stroke-width="1.1"/>
<!-- blob after ring 2 -->
<path d="M1236,594 L1238.5,588.2 Q1250,586 1258.7,585.3 Q1268,586 1273.1,589.6 Q1282,596 1284.6,602.6 L1286,609.8 L1242,628 Z" stroke="none"/>
<path d="M1238.5,588.2 Q1250,586 1258.7,585.3 Q1268,586 1273.1,589.6 Q1282,596 1284.6,602.6 L1286,609.8" fill="none"/>
<path d="M1242,607 L1277.4,601.2" fill="none"/>
<path d="M1240,587 Q1246,583 1254,585" fill="none"/>
<!-- ring 2 -->
<path d="M1219,594 Q1231,594 1237,603 Q1242,612 1238,621 Q1233,628.6 1222,628.6" fill="none" stroke-width="1.2"/>
<path d="M1222,593.5 Q1236,595 1240,606 Q1243,615 1239,623 Q1235,629 1225,629" fill="none" stroke-width="1.1"/>
</g>
<!-- junction / upper cylinder -->
<g class="th" fill="none">
<path d="M1172.1,488.7 L1168.5,540.6 M1245.7,488.7 L1244.2,545"/>
<path d="M1168.5,541 A37.9,8 0 0 0 1244.2,543" fill="#fff"/>
<path d="M1168.5,541 A37.9,7 0 0 1 1244.2,543" stroke-width="0.9"/>
<path d="M1185.1,548 L1185.1,569.4 M1226.9,549 L1226.9,560.8"/>
<path d="M1186.5,568 Q1190,559 1193.8,557.9 Q1200,553.6 1206.7,553.6 Q1215,554 1219.7,557.9 Q1223,562 1225.5,573.8 L1235.6,588.2"/>
<path d="M1221,560 L1231,582 M1223,559 L1233,580" stroke-width="0.8"/>
<path d="M1205.3,500.2 L1203.9,553.6"/>
<path d="M1201,488.7 L1202.4,495.9 L1215.4,497.3 Q1222,500 1225.5,504.5 Q1228,510 1229.8,517.5 L1235.6,529 L1241.3,530.5" class="ds"/>
<path d="M1215.4,497.3 Q1224,499 1227,505 L1232,518 L1240,528 L1242,520 L1243,510"/>
</g>
<!-- bent hidden tube left of cylinder -->
<g class="ds" stroke-width="1.05">
<path d="M1150.5,488.7 Q1139,505 1139,530.5 L1140.4,573.8"/>
<path d="M1165,488.7 Q1150.5,505 1150.5,527.6 L1152,573.8"/>
<path d="M1170.7,488.7 Q1166,500 1166.3,516 L1167.8,573.8"/>
</g>
<path d="M1139,531.2 L1166.3,526.2 M1150.5,488.7 L1159,497.3" class="th"/>
<g class="th">
<path d="M1238.5,488.7 L1237.7,500.2 Q1238,504 1240.6,505.2 L1257.2,506 M1240.6,505.2 L1251.4,514.6 L1252.9,523.3 L1258.7,533.4 L1264.4,536.3"/>
<path d="M1257,488.7 V506 M1264,488.7 V496"/>
</g>
<!-- ===== labels ===== -->
<g class="mb" font-size="18.5">
<text x="539" y="284.5" textLength="116" lengthAdjust="spacingAndGlyphs">TO&#160;DOOR&#160;WH&#160;1</text>
<text x="542.5" y="324" textLength="88.5" lengthAdjust="spacingAndGlyphs">HSG&#160;:&#160;24P</text>
<text x="542.5" y="343.6" textLength="58.5" lengthAdjust="spacingAndGlyphs">C001PF</text>

<text x="1190" y="309.6" textLength="127" lengthAdjust="spacingAndGlyphs">TO&#160;FLOOR&#160;RH&#160;2</text>
<text x="1190.7" y="349.3" textLength="78" lengthAdjust="spacingAndGlyphs">HSG&#160;:&#160;4P</text>
<text x="1190.7" y="368.6" textLength="58" lengthAdjust="spacingAndGlyphs">C001RF</text>

<text x="1397.5" y="259" textLength="246" lengthAdjust="spacingAndGlyphs">FLOOR&#160;RH&#160;INLINE&#160;CONNECTOR</text>
<text x="1394.8" y="299.4" textLength="87.6" lengthAdjust="spacingAndGlyphs">HSG&#160;:&#160;56P</text>
<text x="1394.8" y="319" textLength="57.8" lengthAdjust="spacingAndGlyphs">C001DF</text>

<text x="474.3" y="580.2" textLength="108" lengthAdjust="spacingAndGlyphs">TO&#160;FRONT&#160;WH</text>
<text x="474.3" y="601.5" textLength="108" lengthAdjust="spacingAndGlyphs">63700009670</text>
<text x="474.3" y="620.8" textLength="68.5" lengthAdjust="spacingAndGlyphs">HSG&#160;:4P</text>
<text x="474.3" y="640.6" textLength="58.6" lengthAdjust="spacingAndGlyphs">C001WF</text>

<text x="457.4" y="1011.7" textLength="117.4" lengthAdjust="spacingAndGlyphs">TO&#160;DOOR&#160;WH&#160;2</text>
<text x="457.1" y="1051.8" textLength="87" lengthAdjust="spacingAndGlyphs">HSG&#160;:&#160;10P</text>
<text x="457.1" y="1071.2" textLength="58" lengthAdjust="spacingAndGlyphs">C001QF</text>
</g>
<g class="mb" font-size="24.5">
<text x="1381" y="1167.2" textLength="150" lengthAdjust="spacingAndGlyphs">FLOOR&#160;RH&#160;WH</text>
</g>
<g class="m" font-size="26">
<text x="654.7" y="1156.3" textLength="261.5" lengthAdjust="spacingAndGlyphs">RH&#160;INLINE&#160;CONNECTOR</text>
<text x="654.7" y="1183.7" textLength="192.6" lengthAdjust="spacingAndGlyphs">MOUNTING&#160;FRAME</text>
<text x="684.1" y="1250.8" textLength="261.2" lengthAdjust="spacingAndGlyphs">RH&#160;INLINE&#160;CONNECTOR</text>
<text x="684.1" y="1278.2" textLength="220" lengthAdjust="spacingAndGlyphs">MOUNTING&#160;BRACKET</text>
</g>
<!-- underlines + leaders -->
<defs><marker id="ar" viewBox="0 0 10 6" refX="10" refY="3" markerWidth="10" markerHeight="6" markerUnits="userSpaceOnUse" orient="auto"><path d="M0,0 L10,3 L0,6 Z" fill="#000"/></marker></defs>
<g fill="none" stroke="#111" stroke-width="1">
<polyline points="538.4,288 666,288 936,604" marker-end="url(#ar)"/>
<polyline points="1317.8,313 1180.2,313 1014,638" marker-end="url(#ar)"/>
<polyline points="1643.5,262.5 1387.8,262.5 1101,695" marker-end="url(#ar)"/>
<polyline points="474,583.5 601,583.5 878,712" marker-end="url(#ar)"/>
<polyline points="457,1015.4 584.5,1015.4 945,767" marker-end="url(#ar)"/>
<polyline points="653.9,1188.6 926,1188.6 1035,794" marker-end="url(#ar)"/>
<polyline points="683.3,1282.6 955.5,1282.6 1109,955" marker-end="url(#ar)"/>
<polyline points="1531.7,1172 1370,1172 1207.4,1015.5" marker-end="url(#ar)"/>
</g>
<!-- balloons -->
<g class="th">
<circle cx="695" cy="434.7" r="20.7"/>
<circle cx="1161.7" cy="443.8" r="20.9"/>
<circle cx="1532.5" cy="319" r="21.1"/>
<circle cx="564.4" cy="789.2" r="21.1"/>
<circle cx="582.7" cy="1075.7" r="20.8"/>
</g>
<g font-family="Liberation Sans,sans-serif" font-size="24.5" font-weight="bold" fill="#000">
<text x="681.8" y="443.3" textLength="26.5" lengthAdjust="spacingAndGlyphs">30</text>
<text x="1148.5" y="452.5" textLength="26.5" lengthAdjust="spacingAndGlyphs">30</text>
<text x="1519.3" y="327.7" textLength="26.5" lengthAdjust="spacingAndGlyphs">30</text>
<text x="551.2" y="797.9" textLength="26.5" lengthAdjust="spacingAndGlyphs">30</text>
<text x="569.5" y="1084.4" textLength="26.5" lengthAdjust="spacingAndGlyphs">30</text>
</g>
</svg></body></html>
